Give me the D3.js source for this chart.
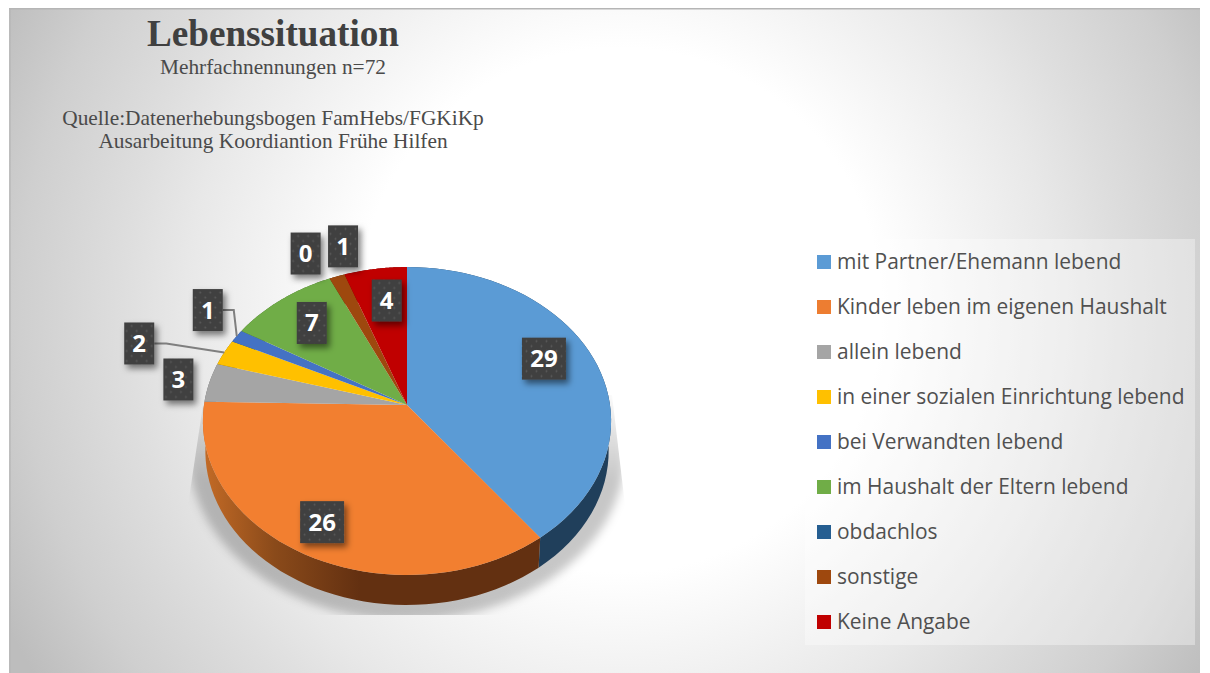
<!DOCTYPE html>
<html><head><meta charset="utf-8">
<script src="https://cdn.jsdelivr.net/npm/d3@7"></script>
<style>
html,body{margin:0;padding:0;background:#fff}
svg{display:block}
</style></head><body><svg id="c" width="1210" height="673"></svg>
<script>
const categories=["mit Partner/Ehemann lebend","Kinder leben im eigenen Haushalt","allein lebend","in einer sozialen Einrichtung lebend","bei Verwandten lebend","im Haushalt der Eltern lebend","obdachlos","sonstige","Keine Angabe"];
const values=[29,26,3,2,1,7,0,1,4];
const colors=["#5b9bd5","#f27f30","#a5a5a5","#ffc000","#4472c4","#70ad47","#255e91","#9e480e","#c00000"];
const sideColors=["#203f5b","url(#sideOrange)","#6b6b6b","#8a6a00","#2a4578","#44692b","#163a5a","#5f2b08","#740000"];
const titleText="Lebenssituation";
const subtitleLines=[["Mehrfachnennungen n=72",74],["Quelle:Datenerhebungsbogen FamHebs/FGKiKp",125],["Ausarbeitung Koordiantion Frühe Hilfen",148]];
// label box offsets from each slice's projected rim/mid anchor
const labelRadius=[0.62,0.62,1,1,1,0.62,1,1,0.62];
const labelShift=[[20,-17],[-24,28],[-31,-3],[-85,-9],[-29,-26],[-15,-15],[-24,-25],[6,-30],[0,-17]];
const leaders=[null,null,null,[-58,-9,-70,-9],[-3,-26,-14,-26],null,null,null,null];

const svg=d3.select("#c"), W=1210, H=673;
const defs=svg.append("defs");
const bg=defs.append("radialGradient").attr("id","bg").attr("gradientUnits","userSpaceOnUse")
 .attr("cx",620).attr("cy",310).attr("r",690);
[[0,"#ffffff"],[0.38,"#ffffff"],[0.5,"#f4f4f4"],[0.63,"#e8e8e8"],[0.72,"#dedede"],[0.87,"#cfcfcf"],[1,"#bdbdbd"]].forEach(s=>bg.append("stop").attr("offset",s[0]).attr("stop-color",s[1]));
const so=defs.append("linearGradient").attr("id","sideOrange").attr("gradientUnits","userSpaceOnUse").attr("x1",205).attr("x2",360).attr("y1",0).attr("y2",0);
[[0,"#c26a26"],[0.45,"#8a4a1a"],[1,"#633011"]].forEach(s=>so.append("stop").attr("offset",s[0]).attr("stop-color",s[1]));
const lg=defs.append("linearGradient").attr("id","sh").attr("gradientUnits","userSpaceOnUse").attr("x1",0).attr("x2",0).attr("y1",395).attr("y2",480);
[[0,0.03],[1,0.22]].forEach(s=>lg.append("stop").attr("offset",s[0]).attr("stop-color","#000").attr("stop-opacity",s[1]));
defs.append("filter").attr("id","blur").attr("x","-20%").attr("y","-20%").attr("width","140%").attr("height","140%")
 .append("feGaussianBlur").attr("stdDeviation",5);
const ds=defs.append("filter").attr("id","ds").attr("x","-40%").attr("y","-40%").attr("width","200%").attr("height","200%");
ds.append("feDropShadow").attr("dx",3).attr("dy",4).attr("stdDeviation",3).attr("flood-color","#000").attr("flood-opacity",0.5);
const pat=defs.append("pattern").attr("id","dots").attr("patternUnits","userSpaceOnUse").attr("width",10).attr("height",10);
pat.append("rect").attr("width",10).attr("height",10).attr("fill","#404040");
pat.append("circle").attr("cx",2.5).attr("cy",2.5).attr("r",0.9).attr("fill","#5c5c5c");
pat.append("circle").attr("cx",7.5).attr("cy",7.5).attr("r",0.9).attr("fill","#5c5c5c");

svg.append("rect").attr("x",9).attr("y",8).attr("width",1191).attr("height",665).attr("fill","url(#bg)");
svg.append("rect").attr("x",9).attr("y",8).attr("width",1191).attr("height",1.5).attr("fill","#b5b5b5");
svg.append("rect").attr("x",9).attr("y",8).attr("width",2).attr("height",665).attr("fill","#b5b5b5").attr("fill-opacity",0.6);

// perspective projection of the tilted disc
const cx=407, cy=405, R=203, B=152.3, k=0.104;
const xS=d3.scaleLinear().domain([-1,1]).range([cx-R,cx+R]);
const yS=d3.scaleLinear().domain([-1,1]).range([cy-B,cy+B]);
function proj(a,r=1,depth=0){
  const u=r*Math.sin(a), v=-r*Math.cos(a), d=1-k*v, sc=depth?0.988:1;
  return [cx+(xS(u/d)-cx)*sc, yS(v/d)+depth];
}
const pie=d3.pie().sort(null).value(d=>d).startAngle(0).endAngle(2*Math.PI);
const arcs=pie(values);
const line=d3.line();
const rim=(a0,a1,depth,r=1)=>d3.range(0,49).map(i=>proj(a0+(a1-a0)*i/48,r,depth));

// floor shadow: blurred disc, cut by a straight-sided outline
defs.append("clipPath").attr("id","shClip").append("polygon")
  .attr("points",[[cx+205,395],[cx+218,505],[cx+218,615],[cx-219,615],[cx-219,505],[cx-204,405]].join(" "));
svg.append("g").attr("clip-path","url(#shClip)").append("path")
  .attr("filter","url(#blur)").attr("fill","url(#sh)")
  .attr("d",line(rim(Math.PI*0.2,Math.PI*1.8,30,1.08))+"Z");

// side wall
svg.append("g").selectAll("path").data(arcs).join("path")
  .attr("fill",(d,i)=>sideColors[i])
  .attr("d",d=>{
    if(d.endAngle===d.startAngle) return null;
    return line(rim(d.startAngle,d.endAngle,0).concat(rim(d.startAngle,d.endAngle,30).reverse()))+"Z";
  });
// top face
svg.append("g").selectAll("path").data(arcs).join("path")
  .attr("fill",(d,i)=>colors[i])
  .attr("d",d=>d.endAngle===d.startAngle?null:line([[cx,cy]].concat(rim(d.startAngle,d.endAngle,0)))+"Z");

// labels
const boxes=arcs.map((d,i)=>{
  const m=(d.startAngle+d.endAngle)/2, p=proj(m,labelRadius[i]);
  const sh=labelShift[i];
  const w=String(values[i]).length>1?44:30;
  return {i,p,x:p[0]+sh[0],y:p[1]+sh[1],w,h:42,v:values[i]};
});
svg.append("g").selectAll("path").data(boxes.filter(b=>leaders[b.i])).join("path")
  .attr("fill","none").attr("stroke","#7f7f7f").attr("stroke-width",2)
  .attr("d",b=>{const l=leaders[b.i];return line([[b.p[0]+l[2],b.p[1]+l[3]],[b.p[0]+l[0],b.p[1]+l[1]],b.p]);});
const lb=svg.append("g").selectAll("g").data(boxes).join("g").attr("transform",b=>`translate(${b.x},${b.y})`);
lb.append("rect").attr("x",b=>-b.w/2).attr("y",-21).attr("width",b=>b.w).attr("height",42).attr("fill","url(#dots)").attr("filter","url(#ds)");
lb.append("text").attr("text-anchor","middle").attr("y",8.5).attr("fill","#fff")
  .style("font-family","'Open Sans'").style("font-weight",700).style("font-size","24px").text(b=>b.v);

// titles
const T="'Liberation Serif'";
svg.append("text").attr("x",273).attr("y",46).attr("text-anchor","middle").attr("fill","#404040")
  .style("font-family",T).style("font-weight",700).style("font-size","37.2px").text(titleText);
svg.append("g").selectAll("text").data(subtitleLines).join("text").attr("x",273).attr("y",d=>d[1])
  .attr("text-anchor","middle").attr("fill","#4a4a4a").style("font-family",T).style("font-size","21.35px").text(d=>d[0]);

// legend
svg.append("rect").attr("x",805).attr("y",239).attr("width",390).attr("height",406).attr("fill","#fff").attr("fill-opacity",0.35);
const ly=d3.scalePoint().domain(categories).range([262,622]);
const le=svg.append("g").selectAll("g").data(categories).join("g").attr("transform",d=>`translate(0,${ly(d)})`);
le.append("rect").attr("x",817).attr("y",-7).attr("width",14).attr("height",14).attr("fill",(d,i)=>colors[i]==="#f27f30"?"#ed7d31":colors[i]);
le.append("text").attr("x",837).attr("y",7).attr("fill","#505050").style("font-family","'Open Sans'").style("font-size","20.95px").text(d=>d);
</script></body></html>
